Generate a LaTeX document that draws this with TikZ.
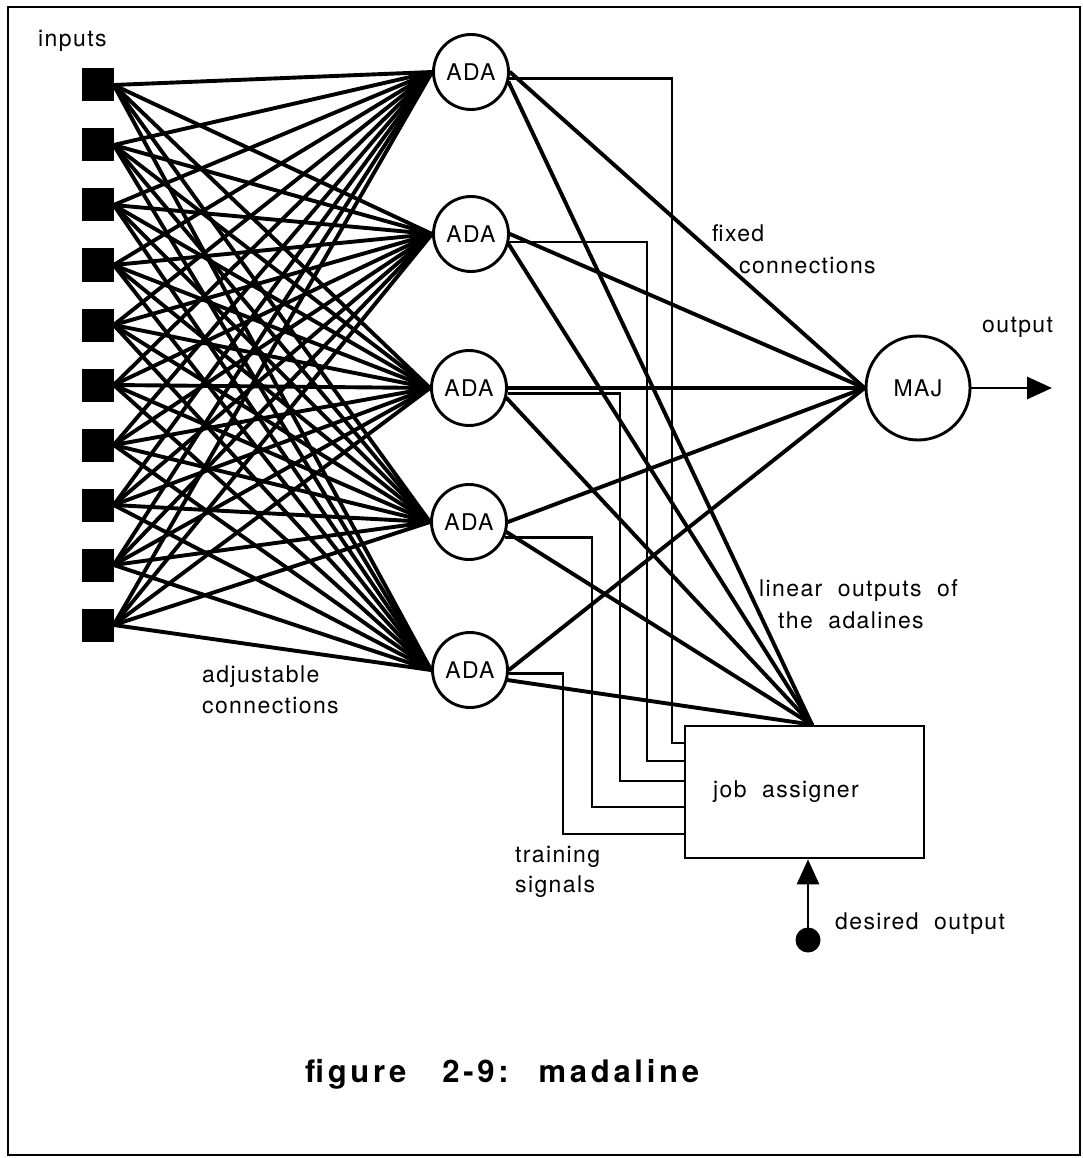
\documentclass[tikz,border=0pt]{standalone}
\usepackage{fontspec}
\setmainfont{TeX Gyre Heros}[LetterSpace=6, WordSpace=2]
\newfontfamily\titlefont{TeX Gyre Heros}[LetterSpace=12]
\usetikzlibrary{arrows.meta}

\tikzset{
  wire/.style={line width=3.9pt, line cap=round},
  sig/.style={line width=2.7pt},
  unit/.style={circle, draw, line width=2.9pt, minimum size=75pt, inner sep=0pt,
               font=\fontsize{23}{26}\selectfont},
  inp/.style={fill=black, minimum width=32pt, minimum height=33pt, inner sep=0pt},
  lbl/.style={font=\fontsize{23}{26}\selectfont, inner sep=0pt, anchor=base west},
  tip/.style={-{Triangle[length=25pt,width=22pt]}, line width=2.9pt},
}

\begin{document}
\begin{tikzpicture}[x=1pt, y=-1pt]
  \useasboundingbox (0,0) rectangle (1083,1158);
  % frame
  \draw[line width=2.5pt] (8,7) rectangle (1080,1155);

  % input squares
  \foreach \i in {0,...,9}
    \node[inp] (x\i) at (97.5, 85+60*\i) {};

  % adalines
  \node[unit] (a1) at (471,72)  {ADA};
  \node[unit] (a2) at (471,234) {ADA};
  \node[unit] (a3) at (469,388) {ADA};
  \node[unit] (a4) at (469,522) {ADA};
  \node[unit] (a5) at (470,670) {ADA};

  % majority unit
  \node[unit, minimum size=104pt] (maj) at (918,388) {MAJ};

  % job assigner
  \node[draw, line width=2.7pt, minimum width=239pt, minimum height=132pt, inner sep=0pt]
    (job) at (804.5,792) {};
  \node[lbl] (jobtxt) at (713,797) {job assigner};
  \coordinate (jt) at ([xshift=7.5pt]job.north);

  % adjustable connections
  \foreach \i in {0,...,9}
    \foreach \j in {1,...,5}
      \draw[wire] (x\i.east) -- (a\j.west);

  % fixed connections to the majority unit
  \foreach \j in {1,...,5}
    \draw[wire] (a\j.east) -- (maj.west);

  % linear outputs to the job assigner
  \foreach \j in {1,...,5}
    \draw[wire] (a\j.-15) -- (jt);

  % training signals
  \draw[sig] (a1.-10) -| (672,743) -- (672,743 -| job.west);
  \draw[sig] (a2.-12) -| (647,761) -- (647,761 -| job.west);
  \draw[sig] (a3.-8)  -| (620,781) -- (620,781 -| job.west);
  \draw[sig] (a4.-24) -| (592,807) -- (592,807 -| job.west);
  \draw[sig] (a5.-5)  -| (563,834) -- (563,834 -| job.west);

  % output
  \coordinate (out) at (1052,388);
  \draw[tip] (maj.east) -- (out);

  % desired output
  \node[circle, fill=black, minimum size=25pt, inner sep=0pt] (des) at (808,940) {};
  \draw[tip] (des.center) -- (des |- job.south);

  % labels
  \node[lbl] (l1) at (38,47)   {inputs};
  \node[lbl] (l2) at (712,241) {fixed};
  \node[lbl] (l3) at (739,273) {connections};
  \node[lbl] (l4) at (982,332) {output};
  \node[lbl] (l5) at (759,596) {linear outputs of};
  \node[lbl] (l6) at (778,628) {the adalines};
  \node[lbl] (l7) at (202,682) {adjustable};
  \node[lbl] (l8) at (202,713) {connections};
  \node[lbl] (l9) at (515,862) {training};
  \node[lbl] (l10) at (515,892) {signals};
  \node[lbl] (l11) at (835,929) {desired output};
  \node[inner sep=0pt, anchor=base west, font=\titlefont\bfseries\fontsize{31}{35}\selectfont]
    (title) at (305,1082) {figure\hspace{36pt}2-9:\hspace{30pt}madaline};
\end{tikzpicture}
\end{document}
